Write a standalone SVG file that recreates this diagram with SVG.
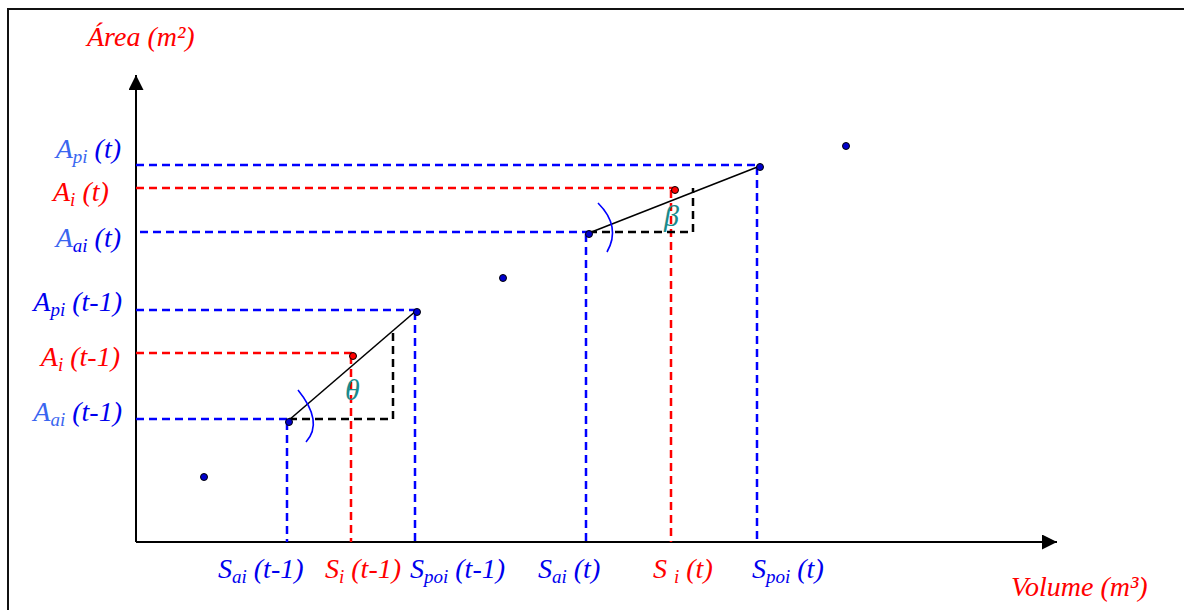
<svg xmlns="http://www.w3.org/2000/svg" width="1184" height="610" viewBox="0 0 1184 610">
<defs>
<style>
.t{font-family:"Liberation Serif","Times New Roman",serif;font-style:italic;font-size:28px}
.b{fill:#0000ee}
.lb{fill:#3a66f0}
.r{fill:#ff0000}
.g{fill:#1a8a8a;font-size:30px}
.sub{font-size:19px}
.db{stroke:#0000ff;stroke-width:2.5;stroke-dasharray:8 5;fill:none}
.dr{stroke:#ff0000;stroke-width:2.5;stroke-dasharray:8 5;fill:none}
.dk{stroke:#000;stroke-width:2.5;stroke-dasharray:8 5;fill:none}
.ln{stroke:#000;stroke-width:1.6;fill:none}
.arc{stroke:#0000ff;stroke-width:1.6;fill:none}
.pt{fill:#0000cc;stroke:#000;stroke-width:1}
.pr{fill:#ff0000;stroke:#000;stroke-width:1}
</style>
<marker id="ah" viewBox="0 0 10 10" refX="10" refY="5" markerWidth="7.5" markerHeight="7.5" markerUnits="strokeWidth" orient="auto"><path d="M0,0 L10,5 L0,10 z" fill="#000"/></marker>
</defs>
<rect x="0" y="0" width="1184" height="610" fill="#fff"/>
<rect id="frame" x="8" y="9" width="1200" height="620" fill="none" stroke="#111" stroke-width="2"/>
<g id="axes">
<line x1="136" y1="542" x2="136" y2="75" stroke="#000" stroke-width="2" marker-end="url(#ah)"/>
<line x1="136" y1="542" x2="1057" y2="542" stroke="#000" stroke-width="2" marker-end="url(#ah)"/>
</g>
<g id="connectors">
<path class="db" d="M136,310 H417 M415,312 V542"/>
<path class="dr" d="M136,353 H352 M351,356 V542"/>
<path class="db" d="M136,419 H289 M287,422 V542"/>
<path class="dk" d="M289,419 H393 V330"/>
<path class="db" d="M136,165 H760 M757,167 V542"/>
<path class="dr" d="M136,188 H675 M671,190 V542"/>
<path class="db" d="M140,232 H589 M586,234 V542"/>
<path class="dk" d="M589,232 H693 V188"/>
<line class="ln" x1="289" y1="420" x2="417" y2="310"/>
<line class="ln" x1="589" y1="233" x2="760" y2="166"/>
<path class="arc" d="M298,390 Q324,422 306,442"/>
<path class="arc" d="M598,203 Q621.5,226.5 607,252"/>
</g>
<g id="points">
<circle class="pt" cx="204" cy="477" r="3.5"/>
<circle class="pt" cx="289" cy="422" r="3.5"/>
<circle class="pr" cx="353" cy="356" r="3.5"/>
<circle class="pt" cx="417" cy="312" r="3.5"/>
<circle class="pt" cx="503" cy="278" r="3.5"/>
<circle class="pt" cx="589" cy="234" r="3.5"/>
<circle class="pr" cx="675" cy="190" r="3.5"/>
<circle class="pt" cx="760" cy="167" r="3.5"/>
<circle class="pt" cx="846" cy="146" r="3.5"/>
</g>
<g id="angles">
<text class="t g" x="345" y="400">θ</text>
<text class="t g" x="664" y="226">β</text>
</g>
<g id="axis-titles">
<text class="t r" x="87" y="46">Área (m²)</text>
<text class="t r" x="1011" y="596">Volume (m³)</text>
</g>
<g id="y-labels">
<text class="t b" x="121" y="158" text-anchor="end"><tspan class="lb">A</tspan><tspan class="sub lb" dy="5">pi</tspan><tspan dy="-5"> (t)</tspan></text>
<text class="t r" x="53" y="201"><tspan>A</tspan><tspan class="sub" dy="5">i</tspan><tspan dy="-5"> (t)</tspan></text>
<text class="t b" x="121" y="247" text-anchor="end"><tspan class="lb">A</tspan><tspan class="sub" dy="5">ai</tspan><tspan dy="-5"> (t)</tspan></text>
<text class="t b" x="122" y="311" text-anchor="end"><tspan>A</tspan><tspan class="sub" dy="5">pi</tspan><tspan dy="-5"> (t-1)</tspan></text>
<text class="t r" x="120" y="366" text-anchor="end"><tspan>A</tspan><tspan class="sub" dy="5">i</tspan><tspan dy="-5"> (t-1)</tspan></text>
<text class="t b" x="122" y="421" text-anchor="end"><tspan class="lb">A</tspan><tspan class="sub lb" dy="5">ai</tspan><tspan dy="-5"> (t-1)</tspan></text>
</g>
<g id="x-labels">
<text class="t b" x="218" y="578"><tspan>S</tspan><tspan class="sub" dy="5">ai</tspan><tspan dy="-5"> (t-1)</tspan></text>
<text class="t r" x="325" y="578"><tspan>S</tspan><tspan class="sub" dy="5">i</tspan><tspan dy="-5"> (t-1)</tspan></text>
<text class="t b" x="410" y="578"><tspan>S</tspan><tspan class="sub" dy="5">poi</tspan><tspan dy="-5"> (t-1)</tspan></text>
<text class="t b" x="538" y="578"><tspan>S</tspan><tspan class="sub" dy="5">ai</tspan><tspan dy="-5"> (t)</tspan></text>
<text class="t r" x="653" y="578"><tspan>S </tspan><tspan class="sub" dy="5">i</tspan><tspan dy="-5"> (t)</tspan></text>
<text class="t b" x="752" y="578"><tspan>S</tspan><tspan class="sub" dy="5">poi</tspan><tspan dy="-5"> (t)</tspan></text>
</g>
</svg>
